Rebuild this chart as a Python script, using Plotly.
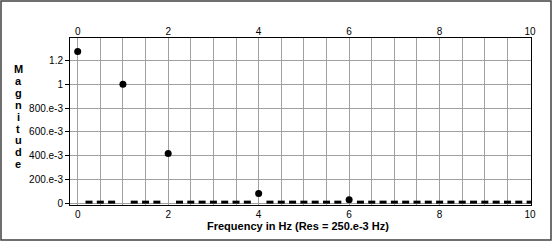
import plotly.graph_objects as go

# Data: magnitude spectrum, resolution 0.25 Hz
freqs = [i * 0.25 for i in range(41)]
peak_freqs = [0, 1, 2, 4, 6]
peak_mags = [1.274, 1.0, 0.42, 0.085, 0.033]
floor_mag = 0.012
mags = []
for f in freqs:
    if f in peak_freqs:
        mags.append(peak_mags[peak_freqs.index(f)])
    else:
        mags.append(floor_mag)

y_tickvals = [0, 0.2, 0.4, 0.6, 0.8, 1.0, 1.2]
y_ticktext = ["0", "200.e-3", "400.e-3", "600.e-3", "800.e-3", "1", "1.2"]
x_tickvals = [0, 2, 4, 6, 8, 10]
x_ticktext = ["0", "2", "4", "6", "8", "10"]
y_title = "Magnitude"
x_title = "Frequency in Hz (Res = 250.e-3 Hz)"

FONT = "Liberation Sans, Arial, sans-serif"

is_peak = [f in peak_freqs for f in freqs]
px = [f for f, p in zip(freqs, is_peak) if p]
py = [m for m, p in zip(mags, is_peak) if p]
fx = [f for f, p in zip(freqs, is_peak) if not p]
fy = [m for m, p in zip(mags, is_peak) if not p]

fig = go.Figure()
fig.add_trace(go.Scatter(
    x=fx, y=fy, mode="markers",
    marker=dict(color="black", size=5, symbol="line-ew",
                line=dict(color="black", width=3)),
    cliponaxis=True, showlegend=False, hoverinfo="x+y",
))
fig.add_trace(go.Scatter(
    x=px, y=py, mode="markers",
    marker=dict(color="black", size=7, symbol="circle", opacity=1,
                line=dict(width=0)),
    cliponaxis=True, showlegend=False, hoverinfo="x+y",
))
# invisible trace to anchor top axis
fig.add_trace(go.Scatter(x=[freqs[0]], y=[mags[0]], xaxis="x2", mode="markers",
                         marker=dict(opacity=0), showlegend=False, hoverinfo="skip"))

W, H = 553, 242
L, R, T, B = 70, 22, 38, 37
pw, ph = W - L - R, H - T - B

fig.update_layout(
    width=W, height=H,
    margin=dict(l=L, r=R, t=T, b=B),
    paper_bgcolor="white", plot_bgcolor="white",
    font=dict(family=FONT, size=10, color="black"),
    xaxis=dict(
        range=[-0.17, 10.02], tickvals=x_tickvals, ticktext=x_ticktext,
        showgrid=True, gridcolor="#a0a0a0", gridwidth=1,
        minor=dict(dtick=0.5, tick0=0, showgrid=True, gridcolor="#a0a0a0", gridwidth=1),
        showline=True, linecolor="black", linewidth=1, mirror=True,
        ticks="", zeroline=False, tickfont=dict(size=10),
    ),
    xaxis2=dict(
        range=[-0.17, 10.02], overlaying="x", side="top", matches="x",
        tickvals=x_tickvals, ticktext=x_ticktext, showgrid=False,
        ticks="", zeroline=False, showline=False, tickfont=dict(size=10),
    ),
    yaxis=dict(
        range=[-0.012, 1.387], tickvals=y_tickvals, ticktext=y_ticktext,
        showgrid=True, gridcolor="#a0a0a0", gridwidth=1,
        showline=True, linecolor="black", linewidth=1, mirror=True,
        ticks="outside", ticklen=4, tickcolor="black", zeroline=False,
        tickfont=dict(size=10),
    ),
)

# x-axis title
fig.add_annotation(text="<b>" + x_title + "</b>", xref="paper", yref="paper",
                   x=0.495, y=-(226 - (T + ph)) / ph, xanchor="center", yanchor="middle",
                   showarrow=False, font=dict(family=FONT, size=11, color="black"))

# stacked y-axis title letters
for i, ch in enumerate(y_title):
    ypix = 69 + i * 11.9
    fig.add_annotation(text="<b>" + ch + "</b>", xref="paper", yref="paper",
                       x=(18 - L) / pw, y=(T + ph - ypix) / ph,
                       xanchor="center", yanchor="middle", showarrow=False,
                       font=dict(family=FONT, size=11, color="black"))

# outer frame
fig.add_shape(type="rect", xref="paper", yref="paper",
              x0=(1 - L) / pw, x1=(551 - L) / pw,
              y0=(T + ph - 240) / ph, y1=(T + ph - 1) / ph,
              line=dict(color="#404040", width=1.5), fillcolor="rgba(0,0,0,0)", layer="below")

fig.write_html("out.html")
